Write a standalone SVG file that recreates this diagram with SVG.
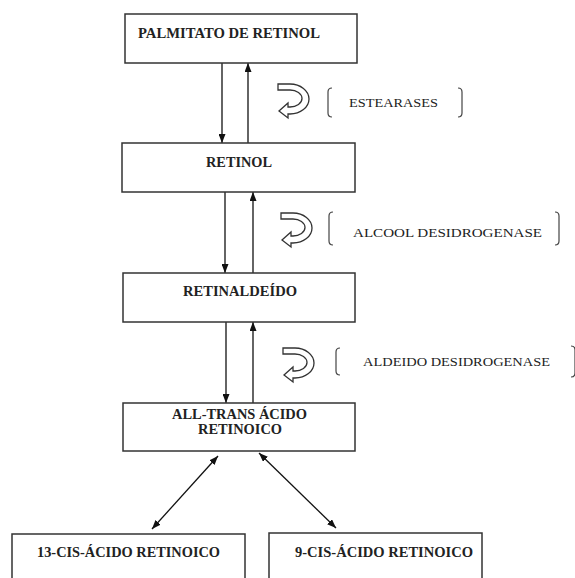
<svg xmlns="http://www.w3.org/2000/svg" width="575" height="578" viewBox="0 0 575 578">
<style>
.box{fill:#fff;stroke:#333;stroke-width:1.5}
.lbl{font-family:"Liberation Serif","Times New Roman",serif;font-weight:bold;font-size:14px;fill:#222}
.enz{font-family:"Liberation Serif","Times New Roman",serif;font-size:13.5px;fill:#222}
.ln{stroke:#111;stroke-width:1.3;fill:none}
.brk{stroke:#444;stroke-width:1.2;fill:none}
.ico{fill:#fff;stroke:#333;stroke-width:1.3}
</style>
<defs>
<marker id="ah" viewBox="0 0 10 10" refX="10" refY="5" markerWidth="9" markerHeight="7" markerUnits="userSpaceOnUse" preserveAspectRatio="none" orient="auto-start-reverse">
<path d="M0,0 L10,5 L0,10 z" fill="#111"/>
</marker>
<path id="curl" d="M0,1 L12,1 A19,15 0 0 1 12,31 L10,31 L10,35 L1,28 L10,20 L10,24 L12,24 A12,8.5 0 0 0 12,7 L0,7 Z"/>
</defs>
<rect width="575" height="578" fill="#fff"/>
<g id="connectors">
<line class="ln" x1="222" y1="63" x2="222" y2="143" marker-end="url(#ah)"/>
<line class="ln" x1="248" y1="143" x2="248" y2="63" marker-end="url(#ah)"/>
<line class="ln" x1="225" y1="192" x2="225" y2="273" marker-end="url(#ah)"/>
<line class="ln" x1="253" y1="273" x2="253" y2="192" marker-end="url(#ah)"/>
<line class="ln" x1="226" y1="322" x2="226" y2="403" marker-end="url(#ah)"/>
<line class="ln" x1="253" y1="403" x2="253" y2="322" marker-end="url(#ah)"/>
<line class="ln" x1="218" y1="456" x2="152" y2="529" marker-start="url(#ah)" marker-end="url(#ah)"/>
<line class="ln" x1="259" y1="453" x2="336" y2="528" marker-start="url(#ah)" marker-end="url(#ah)"/>
</g>
<g id="palmitato">
<rect class="box" x="125" y="14" width="232" height="49"/>
<text class="lbl" x="138" y="38" textLength="182" lengthAdjust="spacingAndGlyphs">PALMITATO DE RETINOL</text>
</g>
<g id="retinol">
<rect class="box" x="122" y="143" width="233" height="49"/>
<text class="lbl" x="206" y="166.5" textLength="66" lengthAdjust="spacingAndGlyphs">RETINOL</text>
</g>
<g id="retinaldeido">
<rect class="box" x="123" y="273" width="232" height="49"/>
<text class="lbl" x="183" y="296" textLength="114" lengthAdjust="spacingAndGlyphs">RETINALDEÍDO</text>
</g>
<g id="alltrans">
<rect class="box" x="123" y="403" width="232" height="48"/>
<text class="lbl" x="172" y="419" textLength="135" lengthAdjust="spacingAndGlyphs">ALL-TRANS ÁCIDO</text>
<text class="lbl" x="198" y="434" textLength="84" lengthAdjust="spacingAndGlyphs">RETINOICO</text>
</g>
<g id="cis13">
<rect class="box" x="12" y="534" width="233" height="60"/>
<text class="lbl" x="37" y="557" textLength="183" lengthAdjust="spacingAndGlyphs">13-CIS-ÁCIDO RETINOICO</text>
</g>
<g id="cis9">
<rect class="box" x="269" y="533" width="213" height="60"/>
<text class="lbl" x="295" y="557" textLength="178" lengthAdjust="spacingAndGlyphs">9-CIS-ÁCIDO RETINOICO</text>
</g>
<g id="estearases">
<use href="#curl" class="ico" x="278" y="83"/>
<path class="brk" d="M332,88 Q328,88 328,92 L328,113 Q328,117 332,117"/>
<text class="enz" x="349" y="107" textLength="89" lengthAdjust="spacingAndGlyphs">ESTEARASES</text>
<path class="brk" d="M458,88 Q462,88 462,92 L462,113 Q462,117 458,117"/>
</g>
<g id="alcool">
<use href="#curl" class="ico" x="281" y="212"/>
<path class="brk" d="M333,212 Q329,212 329,216 L329,241 Q329,245 333,245"/>
<text class="enz" x="353" y="237" textLength="189" lengthAdjust="spacingAndGlyphs">ALCOOL DESIDROGENASE</text>
<path class="brk" d="M555,212 Q559,212 559,216 L559,241 Q559,245 555,245"/>
</g>
<g id="aldeido">
<use href="#curl" class="ico" x="283" y="347"/>
<path class="brk" d="M340,348 Q336,348 336,352 L336,371 Q336,375 340,375"/>
<text class="enz" x="363" y="366" textLength="187" lengthAdjust="spacingAndGlyphs">ALDEIDO DESIDROGENASE</text>
<path class="brk" d="M571,346 Q575,346 575,350 L575,373 Q575,377 571,377"/>
</g>
</svg>
